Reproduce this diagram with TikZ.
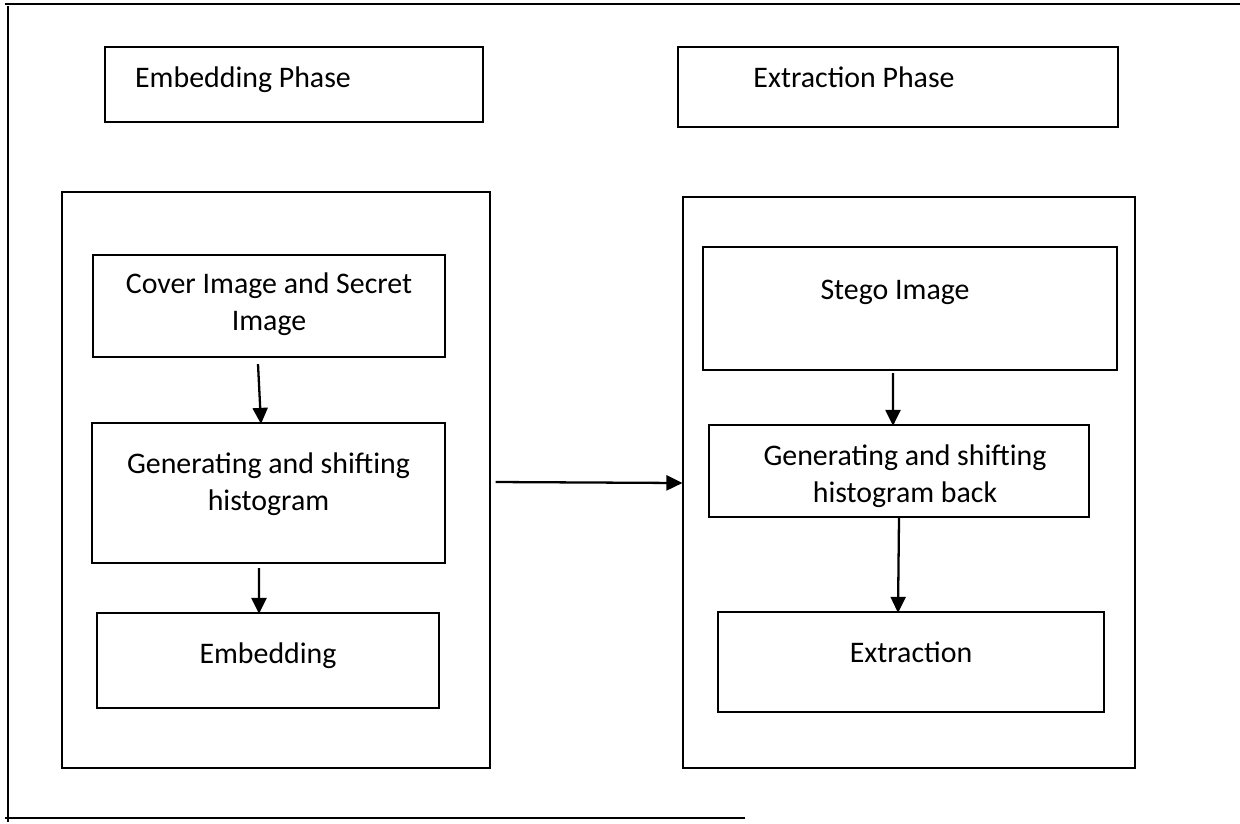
\documentclass[tikz,border=0pt]{standalone}
\usepackage{fontspec}
\setmainfont{Carlito}
\usetikzlibrary{arrows.meta,positioning}

\tikzset{
  phasebox/.style={draw, line width=1.5pt},
  panel/.style={draw, line width=0.7pt},
  stepbox/.style={draw, line width=1.3pt},
  steptext/.style={align=center},
  arr/.style={-{Triangle[length=0.32cm,width=0.3cm]}, line width=1.3pt},
}

\begin{document}
\begin{tikzpicture}[x=0.02cm, y=-0.02cm, font=\fontsize{17}{21}\selectfont]
    \useasboundingbox (0,0) rectangle (1240,823);

    % page frame
    \draw[line width=0.8pt] (5,4) -- (1240,4);
    \draw[line width=0.8pt] (8,6) -- (8,822);
    \draw[line width=0.8pt] (5,818) -- (745,818);

    % phase titles
    \node[phasebox, minimum width=7.56cm, minimum height=1.5cm] (embph) at (294,84.5) {};
    \node (embtitle) at ([xshift=-1.02cm,yshift=0.09cm]embph.center) {Embedding Phase};
    \node[phasebox, minimum width=8.8cm, minimum height=1.6cm] (extph) at (898,87) {};
    \node (exttitle) at ([xshift=-0.88cm,yshift=0.2cm]extph.center) {Extraction Phase};

    % panels
    \node[panel, minimum width=8.56cm, minimum height=11.52cm] (embpanel) at (276,480) {};
    \node[panel, minimum width=9.04cm, minimum height=11.42cm] (extpanel) at (909,482.5) {};

    % embedding steps
    \node[stepbox, minimum width=7.04cm, minimum height=2.04cm] (cover) at (269,306) {};
    \node[steptext] (covertxt) at ([yshift=0.04cm]cover.center) {Cover Image and Secret\\ Image};
    \node[stepbox, minimum width=7.06cm, minimum height=2.8cm] (genhist) at (268.5,493) {};
    \node[steptext] (genhisttxt) at ([yshift=0.17cm]genhist.center) {Generating and shifting\\ histogram};
    \node[stepbox, minimum width=6.84cm, minimum height=1.9cm] (embed) at (268,660.5) {};
    \node[steptext] (embedtxt) at ([yshift=0.1cm]embed.center) {Embedding};

    % extraction steps
    \node[stepbox, minimum width=8.28cm, minimum height=2.46cm] (stego) at (910,308.5) {};
    \node[steptext] (stegotxt) at ([xshift=-0.3cm,yshift=0.33cm]stego.center) {Stego Image};
    \node[stepbox, minimum width=7.6cm, minimum height=1.84cm] (genback) at (899,471) {};
    \node[steptext] (genbacktxt) at ([xshift=0.12cm,yshift=-0.1cm]genback.center) {Generating and shifting\\ histogram back};
    \node[stepbox, minimum width=7.72cm, minimum height=2.0cm] (extract) at (911,662) {};
    \node[steptext] (extracttxt) at ([yshift=0.2cm]extract.center) {Extraction};

    \draw[arr] ([xshift=-0.22cm,yshift=-0.12cm]cover.south) -- ([xshift=-0.15cm,yshift=-0.04cm]genhist.north);
    \draw[arr] ([xshift=-0.19cm,yshift=-0.08cm]genhist.south) -- ([xshift=-0.18cm,yshift=-0.04cm]embed.north);
    \draw[arr] ([xshift=-0.34cm,yshift=-0.04cm]stego.south) -- ([xshift=-0.12cm,yshift=-0.04cm]genback.north);
    \draw[arr] (genback.south) -- ([xshift=-0.26cm,yshift=-0.04cm]extract.north);
    \draw[arr] ([xshift=0.1cm,yshift=-0.04cm]embpanel.east) -- ([yshift=-0.01cm]extpanel.west);
\end{tikzpicture}
\end{document}
